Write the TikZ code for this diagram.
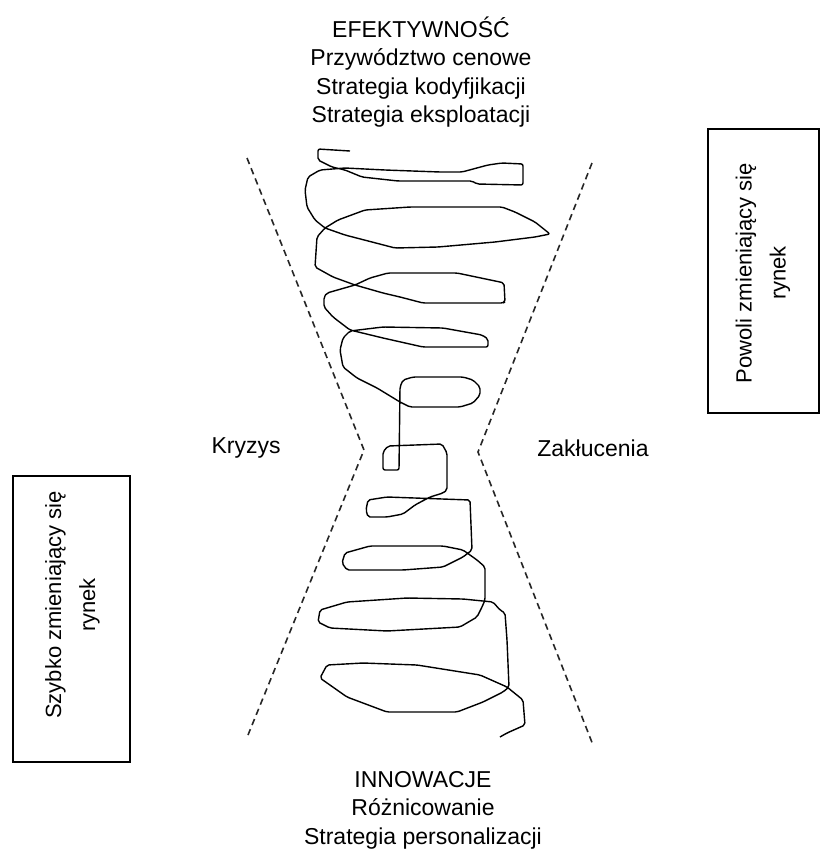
\documentclass[tikz,border=0pt]{standalone}
\usepackage{fontspec}
\setmainfont{Liberation Sans}
\begin{document}
\begin{tikzpicture}[x=1pt,y=-1pt,
  txt/.style={inner sep=0pt, align=center, font=\fontsize{23}{28.5}\selectfont},
  boxtxt/.style={inner sep=0pt, align=center, rotate=90, font=\fontsize{22}{34}\selectfont},
  frame/.style={draw=black, line width=1.3pt, inner sep=0pt},
  guide/.style={draw=black!85, line width=1.6pt, dash pattern=on 6.5pt off 4.5pt},
  scribble/.style={draw=black, line width=1.4pt, line join=round, rounded corners=2pt}]
\useasboundingbox (0,0) rectangle (821,852);
\fill[white] (0,0) rectangle (821,852);

% texts
\node[txt] (top) at (421,72) {EFEKTYWNOŚĆ\\Przywództwo cenowe\\Strategia kodyfjikacji\\Strategia eksploatacji};
\node[txt] (bottom) at (423,810) {INNOWACJE\\Różnicowanie\\Strategia personalizacji};
\node[txt] (kryzys) at (246,448) {Kryzys};
\node[txt] (zaklucenia) at (593,448) {Zakłucenia};

% boxes
\node[frame, minimum width=111pt, minimum height=284pt] (rbox) at (763.5,271) {};
\node[boxtxt] (rtext) at (763,273) {Powoli zmieniający się\\rynek};
\node[frame, minimum width=117pt, minimum height=286pt] (lbox) at (71.5,619) {};
\node[boxtxt] (ltext) at (72.5,605) {Szybko zmieniający się\\rynek};

% hourglass guides
\coordinate (lt) at (247,158);
\coordinate (lm) at (364,450);
\coordinate (lb) at (248,735);
\coordinate (rt) at (592,163);
\coordinate (rm) at (478,452);
\coordinate (rb) at (593,745);
\draw[guide] (lt) -- (lm) -- (lb);
\draw[guide] (rt) -- (rm) -- (rb);

% scribble
\draw[scribble] (350,151) -- (318,149) -- (318,160) -- (332,167) -- (345,170) -- (362,177) -- (398,181) -- (472,181) -- (477,184) -- (523,185) -- (523,164) -- (502,163) -- (488,165) -- (462,172) -- (440,172) -- (385,170) -- (345,168) -- (320,170) -- (308,177) -- (305,190) -- (307,207) -- (315,220) -- (325,228) -- (345,235) -- (372,242) -- (395,248) -- (438,247) -- (495,242) -- (535,237) -- (550,234) -- (535,222) -- (515,212) -- (502,207) -- (410,207) -- (365,210) -- (338,220) -- (325,228) -- (317,237) -- (315,267) -- (333,277) -- (355,285) -- (383,293) -- (400,297) -- (423,303) -- (503,303) -- (505,302) -- (504,283) -- (500,282) -- (457,273) -- (388,273) -- (370,278) -- (355,285) -- (327,293) -- (324,297) -- (324,307) -- (333,317) -- (350,330) -- (383,338) -- (423,347) -- (488,347) -- (488,339) -- (482,335) -- (443,328) -- (383,327) -- (350,331) -- (343,338) -- (340,350) -- (343,367) -- (357,378) -- (377,388) -- (400,402) -- (410,407) -- (460,407) -- (473,403) -- (480,395) -- (480,387) -- (473,380) -- (463,377) -- (413,377) -- (403,380) -- (400,387) -- (399,470) -- (383,470) -- (383,452) -- (388,446) -- (442,444) -- (447,453) -- (447,490) -- (443,493) -- (430,497) -- (415,505) -- (403,514) -- (387,517) -- (368,517) -- (366,510) -- (368,500) -- (387,497) -- (470,500) -- (472,550) -- (463,557) -- (443,567) -- (403,570) -- (347,570) -- (342,563) -- (345,553) -- (370,546) -- (443,546) -- (463,550) -- (477,560) -- (485,567) -- (485,600) -- (482,607) -- (477,617) -- (460,627) -- (387,631) -- (330,628) -- (318,622) -- (320,610) -- (347,602) -- (407,598) -- (463,599) -- (493,602) -- (500,610) -- (505,613) -- (507,640) -- (509,687) -- (503,692) -- (483,702) -- (457,712) -- (387,712) -- (347,697) -- (320,678) -- (327,665) -- (363,663) -- (417,665) -- (480,675) -- (507,687) -- (523,700) -- (525,725) -- (507,733) -- (500,737);
\end{tikzpicture}
\end{document}
